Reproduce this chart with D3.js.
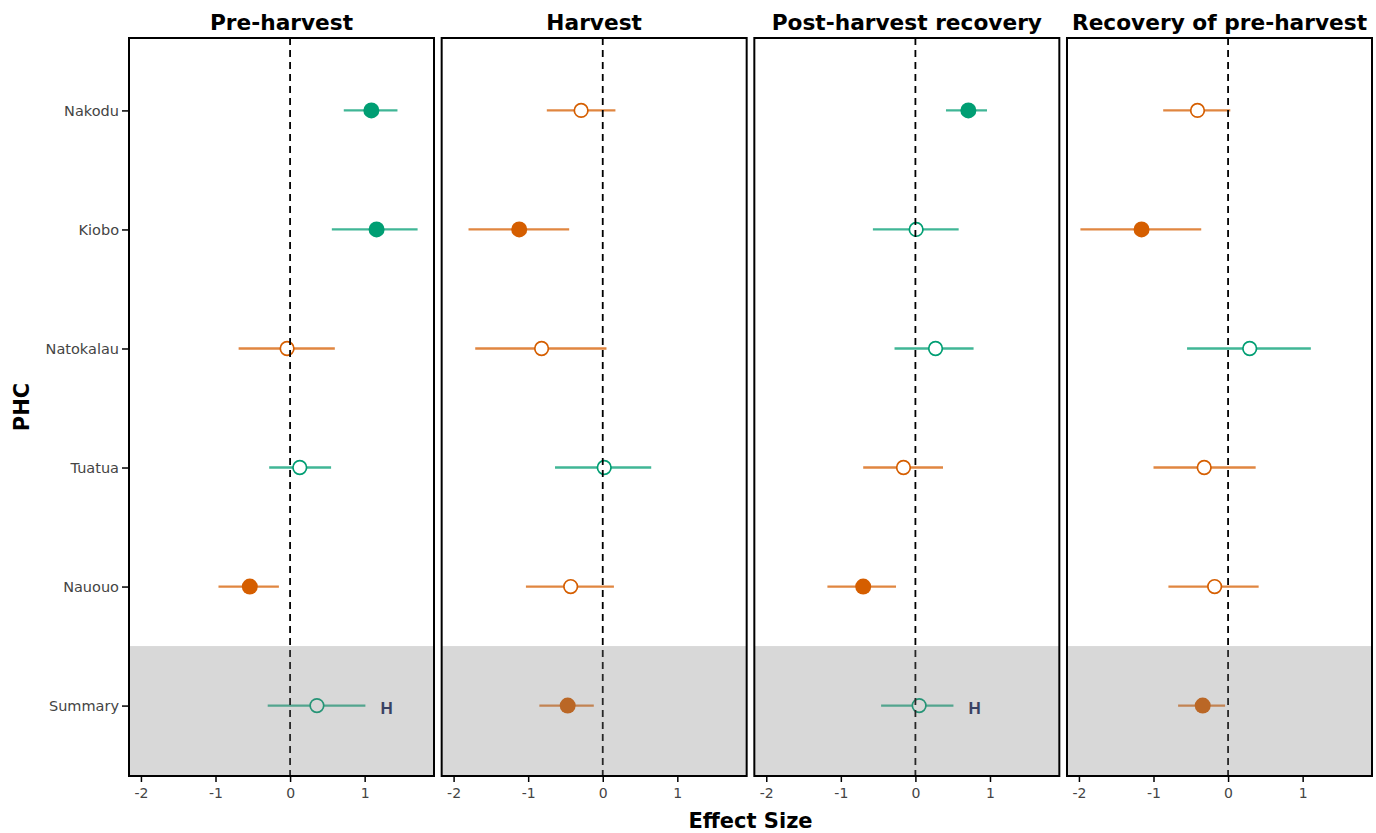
<!DOCTYPE html>
<html>
<head>
<meta charset="utf-8">
<script src="https://cdn.jsdelivr.net/npm/d3@7"></script>
<style>
  body { margin: 0; background: #fff; }
  svg { display: block; }
</style>
</head>
<body>
<svg id="chart" width="1376" height="833"></svg>
<script>
// data
var sites = ["Nakodu", "Kiobo", "Natokalau", "Tuatua", "Nauouo", "Summary"];
var stages = ["Pre-harvest", "Harvest", "Post-harvest recovery", "Recovery of pre-harvest"];
var xTicks = [-2, -1, 0, 1];

// effect size estimates, one array per stage, in site order
var preEst   = [1.09, 1.16, -0.04, 0.13, -0.54, 0.36];
var preLo    = [0.72, 0.56, -0.69, -0.28, -0.96, -0.30];
var preHi    = [1.44, 1.71, 0.60, 0.55, -0.15, 1.01];

var harvEst  = [-0.29, -1.12, -0.82, 0.02, -0.43, -0.47];
var harvLo   = [-0.75, -1.80, -1.71, -0.64, -1.03, -0.85];
var harvHi   = [0.17, -0.45, 0.05, 0.65, 0.15, -0.12];

var postEst  = [0.71, 0.01, 0.27, -0.16, -0.70, 0.05];
var postLo   = [0.41, -0.57, -0.28, -0.70, -1.18, -0.46];
var postHi   = [0.96, 0.58, 0.78, 0.37, -0.26, 0.51];

var recEst   = [-0.41, -1.16, 0.29, -0.32, -0.18, -0.34];
var recLo    = [-0.87, -1.98, -0.55, -1.00, -0.80, -0.67];
var recHi    = [0.03, -0.36, 1.11, 0.37, 0.41, -0.04];

// heterogeneity flag shown as "H" next to the summary
var hetero = [true, false, true, false];

var estimates = [preEst, harvEst, postEst, recEst];
var lows = [preLo, harvLo, postLo, recLo];
var highs = [preHi, harvHi, postHi, recHi];

// layout
var plotTop = 38, plotBottom = 776, plotLeft = 129, plotRight = 1372;
var green = "#009e73", orange = "#d55e00";
var font = "'DejaVu Sans', sans-serif";

var svg = d3.select("#chart");

var panel = d3.scaleBand().domain(stages).range([plotLeft, plotRight]).paddingInner(0.0245);
var x = d3.scaleLinear().domain([-2.16, 1.93]).range([0, panel.bandwidth()]);
var y = d3.scalePoint().domain(sites).range([plotTop + 1, plotBottom + 1]).padding(0.6);

stages.forEach(function(stage, si) {
    var g = svg.append("g").attr("transform", "translate(" + panel(stage) + ",0)");
    var w = panel.bandwidth();

    var rows = sites.map(function(s, i) {
        return { site: s, est: estimates[si][i], lo: lows[si][i], hi: highs[si][i] };
    });

    // confidence intervals
    g.selectAll(".ci")
        .data(rows)
        .enter()
        .append("line")
        .attr("x1", function(d) { return x(d.lo); })
        .attr("x2", function(d) { return x(d.hi); })
        .attr("y1", function(d) { return y(d.site); })
        .attr("y2", function(d) { return y(d.site); })
        .style("stroke", function(d) { return d.est > 0 ? green : orange; })
        .style("stroke-opacity", 0.75)
        .style("stroke-width", 2.3);

    // points: filled when interval excludes zero
    g.selectAll(".pt")
        .data(rows)
        .enter()
        .append("circle")
        .attr("cx", function(d) { return x(d.est); })
        .attr("cy", function(d) { return y(d.site); })
        .attr("r", function(d) { return (d.lo > 0 || d.hi < 0) ? 8 : 6.8; })
        .style("fill", function(d) {
            var sig = d.lo > 0 || d.hi < 0;
            return sig ? (d.est > 0 ? green : orange) : "#fff";
        })
        .style("stroke", function(d) { return d.est > 0 ? green : orange; })
        .style("stroke-width", function(d) { return (d.lo > 0 || d.hi < 0) ? 0 : 1.7; });

    if (hetero[si]) {
        g.append("text")
            .attr("x", x(rows[5].hi) + 15)
            .attr("y", y("Summary") + 8)
            .style("font-family", "'Liberation Sans', Arial, sans-serif")
            .style("font-weight", "bold")
            .style("font-size", "17px")
            .style("fill", "#1a2858")
            .text("H");
    }

    // zero reference
    g.append("line")
        .attr("x1", x(0)).attr("x2", x(0))
        .attr("y1", plotTop).attr("y2", plotBottom)
        .style("stroke", "#000")
        .style("stroke-width", 1.8)
        .style("stroke-dasharray", "7,5");

    // grey band over the summary row
    var bandTop = (y("Nauouo") + y("Summary")) / 2;
    g.append("rect")
        .attr("x", 0).attr("y", bandTop)
        .attr("width", w).attr("height", plotBottom - bandTop)
        .style("fill", "#7f7f7f")
        .style("fill-opacity", 0.3);

    // frame
    g.append("rect")
        .attr("x", 0).attr("y", plotTop)
        .attr("width", w).attr("height", plotBottom - plotTop)
        .style("fill", "none")
        .style("stroke", "#000")
        .style("stroke-width", 2);

    // x axis
    var ax = g.append("g")
        .attr("transform", "translate(0," + (plotBottom + 1) + ")")
        .call(d3.axisBottom(x).tickValues(xTicks).tickSize(5).tickFormat(d3.format("d")));
    ax.select(".domain").remove();
    ax.selectAll("line").style("stroke", "#000").style("stroke-width", 1.5);
    ax.selectAll("text")
        .attr("dy", "0.95em")
        .style("font-family", font)
        .style("font-size", "14px")
        .style("fill", "#444")
        .text(function(d) { return d < 0 ? "-" + Math.abs(d) : d; });

    // strip title
    svg.append("text")
        .attr("x", panel(stage) + w / 2)
        .attr("y", 30)
        .attr("text-anchor", "middle")
        .style("font-family", font)
        .style("font-weight", "bold")
        .style("font-size", "21.7px")
        .style("fill", "#000")
        .text(stage);
});

// y axis on the first panel
var ay = svg.append("g")
    .attr("transform", "translate(" + (plotLeft - 1) + ",0)")
    .call(d3.axisLeft(y).tickSize(6));
ay.select(".domain").remove();
ay.selectAll("line").style("stroke", "#000").style("stroke-width", 1.5);
ay.selectAll("text")
    .attr("x", -9)
    .style("font-family", font)
    .style("font-size", "14.5px")
    .style("fill", "#444");

// axis titles
svg.append("text")
    .attr("x", (plotLeft + plotRight) / 2)
    .attr("y", 828)
    .attr("text-anchor", "middle")
    .style("font-family", font)
    .style("font-weight", "bold")
    .style("font-size", "21px")
    .text("Effect Size");

svg.append("text")
    .attr("transform", "translate(29," + ((plotTop + plotBottom) / 2) + ") rotate(-90)")
    .attr("text-anchor", "middle")
    .style("font-family", font)
    .style("font-weight", "bold")
    .style("font-size", "21px")
    .text("PHC");
</script>
</body>
</html>
